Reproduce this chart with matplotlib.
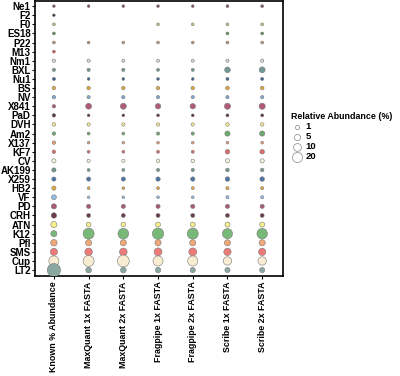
import numpy as np
import matplotlib
matplotlib.use("Agg")
import matplotlib.pyplot as plt

plt.rcParams['font.family'] = ['Liberation Sans', 'DejaVu Sans']

nan = np.nan

species = ["Ne1", "F2", "F0", "ES18", "P22", "M13", "Nm1", "BXL", "Nu1", "BS",
           "NV", "X841", "PaD", "DVH", "Am2", "X137", "KF7", "CV", "AK199", "X259",
           "HB2", "VF", "PD", "CRH", "ATN", "K12", "Pfl", "SMS", "Cup", "LT2"]

colors = ["#8b4a5c", "#3a2a3a", "#c8c07a", "#5b8a5b", "#c09070", "#d9534f",
          "#d8d8d0", "#6f9a94", "#3f5f8f", "#e8a838", "#7fa8d0", "#b05a78",
          "#5a3048", "#f4ec90", "#6aaa6a", "#e8a070", "#e06a6a", "#f6f2e0",
          "#6f9a94", "#4a74a8", "#e8a838", "#90bce6", "#a85a74", "#6a3a4a",
          "#f8f08c", "#78b878", "#f0a878", "#ee7a78", "#f8ecd2", "#8aa8a0"]

methods = ["Known % Abundance", "MaxQuant 1x FASTA", "MaxQuant 2x FASTA",
           "Fragpipe 1x FASTA", "Fragpipe 2x FASTA", "Scribe 1x FASTA",
           "Scribe 2x FASTA"]

known = [0.01, 0.01, 0.05, 0.05, 0.05, 0.05, 0.2, 0.2, 0.2, 0.35,
         0.35, 0.35, 0.35, 0.35, 0.35, 0.35, 0.35, 1, 1, 1,
         1, 2, 2.5, 3, 4.5, 4.5, 5.5, 7.5, 20, 40]
maxquant_1x = [0.02, nan, nan, nan, 0.02, nan, 0.2, 0.2, 0.03, 0.35,
               0.2, 3.9, 0.03, 0.2, 0.07, 0.01, 0.07, 0.2, 0.07, 1,
               0.03, 0.01, 1, 0.7, 1.7, 25, 4.6, 9, 25, 3.5]
maxquant_2x = [0.02, nan, nan, nan, 0.02, nan, 0.1, 0.2, 0.03, 0.35,
               0.2, 4.2, 0.03, 0.2, 0.07, 0.01, 0.07, 0.2, 0.07, 1,
               0.03, 0.01, 1, 0.7, 1.7, 23, 4.6, 9, 30, 3.5]
fragpipe_1x = [0.02, nan, 0.03, nan, 0.03, nan, 0.1, 0.1, 0.03, 0.35,
               0.2, 3, 0.05, 0.2, 0.2, 0.02, 0.1, 0.35, 0.2, 1.2,
               0.07, 0.03, 1, 0.8, 2, 27, 4.6, 10, 20, 3]
fragpipe_2x = [0.02, nan, 0.03, nan, 0.03, nan, 0.1, 0.1, 0.03, 0.35,
               0.2, 2.8, 0.05, 0.2, 0.2, 0.02, 0.1, 0.35, 0.2, 1.2,
               0.07, 0.03, 1, 0.8, 2, 25, 4.6, 10, 20, 2.5]
scribe_1x = [0.05, nan, 0.05, 0.05, 0.05, nan, 0.2, 3.5, 0.1, 0.5,
             0.2, 4.6, 0.1, 0.35, 2.5, 0.03, 1.5, 1, 0.4, 1.5,
             0.15, 0.15, 1, 0.7, 2.2, 20, 4.6, 8, 12, 2.5]
scribe_2x = [0.05, nan, 0.05, 0.05, 0.05, nan, 0.2, 4, 0.1, 0.5,
             0.2, 4.6, 0.1, 0.35, 2.5, 0.03, 1.5, 1, 0.4, 1.5,
             0.15, 0.15, 1, 0.7, 2.2, 22, 4.6, 8, 12, 2.5]

columns = [known, maxquant_1x, maxquant_2x, fragpipe_1x, fragpipe_2x,
           scribe_1x, scribe_2x]

legend_values = [1, 5, 10, 20]


def marker_size(v):
    d_px = 2.5 + 1.7 * np.sqrt(np.asarray(v, dtype=float))
    return (d_px * 0.72) ** 2


fig = plt.figure(figsize=(4, 3.76), dpi=100)
ax = fig.add_axes([0.087, 0.266, 0.6205, 0.731])

n = len(species)
ypos = np.arange(n)[::-1]
for j, vals in enumerate(columns):
    vals = np.array(vals, dtype=float)
    ok = ~np.isnan(vals)
    ax.scatter(np.full(ok.sum(), j + 1), ypos[ok], s=marker_size(vals[ok]),
               c=np.array(colors)[ok], edgecolors="#7a7a7a", linewidths=0.4,
               zorder=3)

ax.set_xlim(0.45, 7.6)
ax.set_ylim(-0.65, n - 1 + 0.55)
ax.set_yticks(ypos)
ax.set_yticklabels(species, fontsize=7.0, fontweight="bold")
ax.set_xticks(np.arange(1, 8))
ax.set_xticklabels(methods, rotation=90, fontsize=6.4, fontweight="bold")
ax.tick_params(length=2, width=0.8, pad=1)
ax.tick_params(axis="x", pad=2)
for sp in ax.spines.values():
    sp.set_linewidth(1.2)

handles = [ax.scatter([], [], s=marker_size(v), facecolor="white",
                      edgecolor="#9a9a9a", linewidths=0.6)
           for v in legend_values]
leg = fig.legend(handles, [str(v) for v in legend_values],
                 title="Relative Abundance (%)", loc="upper left",
                 bbox_to_anchor=(0.712, 0.72), frameon=False,
                 prop={"size": 6.8, "weight": "bold"},
                 title_fontproperties={"size": 6.4, "weight": "bold"},
                 labelspacing=0.12, handletextpad=0.3, handlelength=1.2,
                 borderpad=0.2)
leg._legend_box.align = "left"

fig.savefig("out.png", dpi=100)
